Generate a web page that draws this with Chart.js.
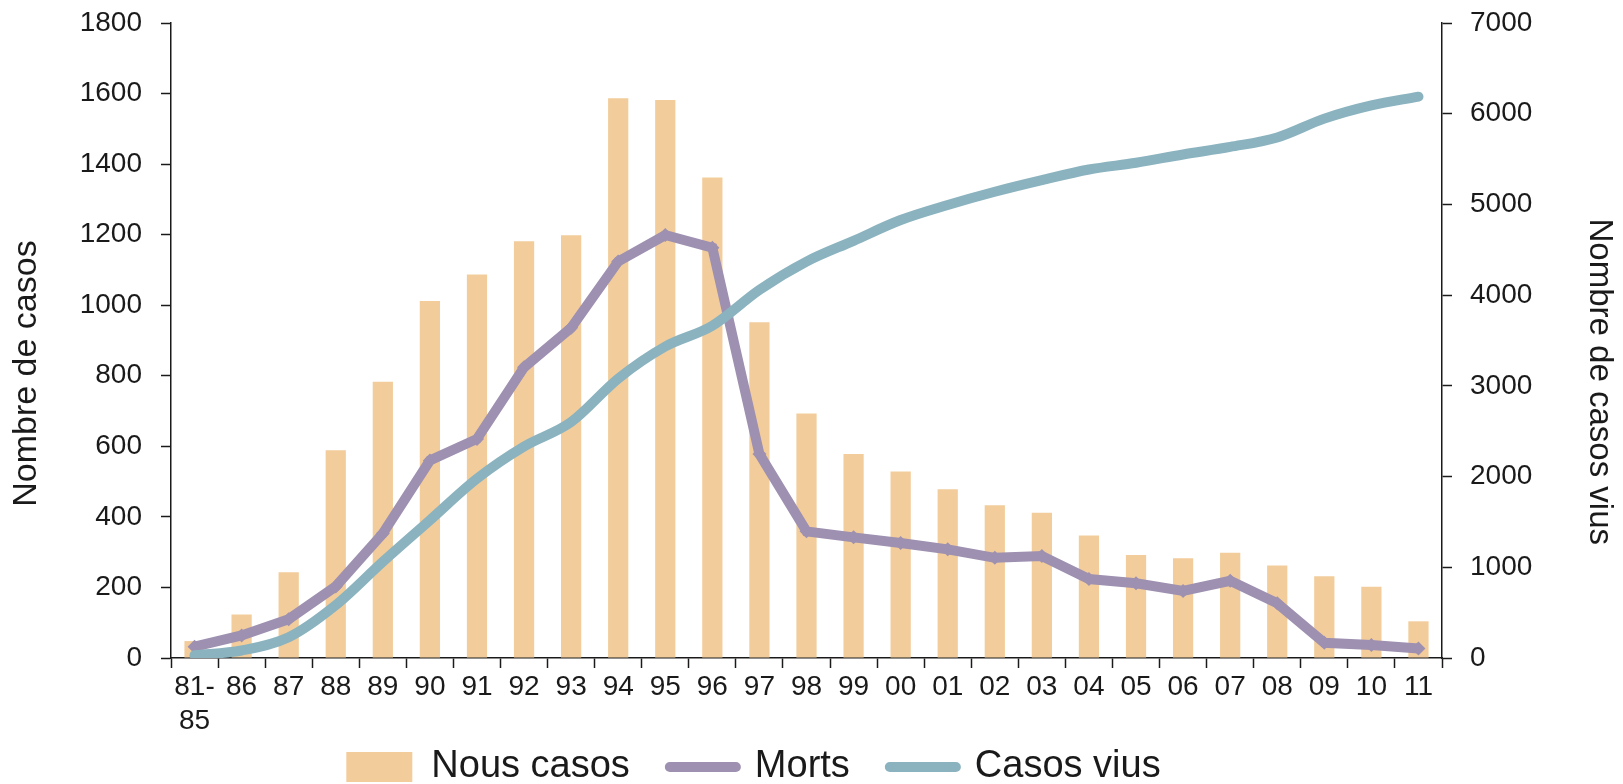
<!DOCTYPE html>
<html>
<head>
<meta charset="utf-8">
<script src="https://cdn.jsdelivr.net/npm/chart.js@4.4.1/dist/chart.umd.min.js"></script>
<style>
  html, body { margin: 0; padding: 0; background: #fff; }
  #wrap { width: 1623px; height: 784px; }
</style>
</head>
<body>
<div id="wrap"><canvas id="chart" width="1623" height="784"></canvas></div>
<script>
const FONT = "'Liberation Sans', Arial, sans-serif";

// years (first one is the 81-85 period)
const years = [["81-", "85"], "86", "87", "88", "89", "90", "91", "92", "93", "94", "95", "96", "97",
  "98", "99", "00", "01", "02", "03", "04", "05", "06", "07", "08", "09", "10", "11"];

const nousCasos = [48, 123, 243, 589, 783, 1012, 1087, 1181, 1198, 1587, 1582, 1362, 952,
  693, 578, 529, 478, 433, 412, 347, 292, 283, 298, 262, 232, 202, 104];

const morts = [32, 64, 110, 203, 353, 560, 621, 824, 936, 1124, 1199, 1163, 578,
  359, 342, 326, 308, 284, 289, 224, 212, 190, 219, 155, 43, 37, 27];

const casosVius = [30, 83, 229, 583, 1061, 1519, 1977, 2331, 2601, 3080, 3434, 3663, 4058,
  4370, 4599, 4828, 4994, 5140, 5268, 5385, 5459, 5551, 5634, 5738, 5946, 6092, 6188];

const COL_BAR = "#F2CD9B";
const COL_MORTS = "#9E90B0";
const COL_VIUS = "#8AB3BF";
const INK = "#1a1a1a";

// the legend padding also sets the gaps between items, so move the box
// afterwards: a bit left of centre and down to the bottom edge, and give
// the x labels (two-line "81- 85") room below the axis
const nudgeBoxes = {
  id: "nudgeBoxes",
  afterLayout(chart) {
    const lg = chart.legend;
    if (lg) {
      lg.left -= 58;
      lg.right -= 58;
      lg.top += 12;
      lg.bottom += 12;
    }
    const x = chart.scales.x;
    x.bottom = x.top + 90;
  }
};

const plain = (v) => String(v);

function noVPad(scale, width) {
  scale.width = width;
  scale.paddingTop = 0;
  scale.paddingBottom = 0;
}

const ctx = document.getElementById("chart").getContext("2d");

new Chart(ctx, {
  type: "bar",
  data: {
    labels: years,
    datasets: [
      {
        type: "bar",
        label: "Nous casos",
        data: nousCasos,
        yAxisID: "y",
        backgroundColor: COL_BAR,
        borderWidth: 0,
        barPercentage: 0.43,
        categoryPercentage: 1,
        order: 3
      },
      {
        type: "line",
        label: "Morts",
        data: morts,
        yAxisID: "y",
        borderColor: COL_MORTS,
        backgroundColor: COL_MORTS,
        borderWidth: 10,
        pointStyle: "rectRot",
        pointRadius: 7,
        pointBorderWidth: 0,
        tension: 0,
        order: 2
      },
      {
        type: "line",
        label: "Casos vius",
        data: casosVius,
        yAxisID: "y1",
        borderColor: COL_VIUS,
        backgroundColor: COL_VIUS,
        borderWidth: 10,
        borderCapStyle: "round",
        pointRadius: 0,
        cubicInterpolationMode: "monotone",
        order: 1
      }
    ]
  },
  plugins: [nudgeBoxes],
  options: {
    responsive: false,
    animation: false,
    devicePixelRatio: 1,
    layout: { padding: { top: 23, left: 0, right: 0, bottom: 0 } },
    plugins: {
      tooltip: { enabled: false },
      legend: {
        position: "bottom",
        labels: {
          color: INK,
          font: { family: FONT, size: 38 },
          usePointStyle: true,
          pointStyleWidth: 66,
          boxHeight: 30,
          padding: 40,
          sort: (a, b) => a.datasetIndex - b.datasetIndex,
          generateLabels(chart) {
            return chart.data.datasets.map((ds, i) => {
              const isBar = ds.type === "bar";
              return {
                text: ds.label,
                datasetIndex: i,
                fillStyle: ds.backgroundColor,
                strokeStyle: ds.borderColor || ds.backgroundColor,
                lineWidth: isBar ? 0 : 10,
                lineCap: "round",
                pointStyle: isBar ? "rect" : "line",
                fontColor: INK,
                hidden: false
              };
            });
          }
        }
      }
    },
    scales: {
      x: {
        offset: true,
        grid: { offset: true, drawOnChartArea: false, drawTicks: true, tickLength: 10, tickColor: INK, tickWidth: 1.5 },
        border: { color: INK, width: 1.5 },
        ticks: { color: INK, font: { family: FONT, size: 28, lineHeight: 1.22 }, padding: 2, maxRotation: 0, autoSkip: false },
        afterFit(scale) { scale.height = 38; }
      },
      y: {
        position: "left",
        min: 0,
        max: 1800,
        grid: { drawOnChartArea: false, drawTicks: true, tickLength: 10, tickColor: INK, tickWidth: 1.5 },
        border: { color: INK, width: 1.5 },
        ticks: { stepSize: 200, color: INK, font: { family: FONT, size: 28 }, padding: 19, callback: plain },
        // trailing spaces: the title sits below the middle of the axis
        title: { display: true, text: "Nombre de casos       ", color: INK, font: { family: FONT, size: 34 }, padding: { top: 6, bottom: 0 } },
        afterFit(scale) { noVPad(scale, 171); }
      },
      y1: {
        position: "right",
        min: 0,
        max: 7000,
        grid: { drawOnChartArea: false, drawTicks: true, tickLength: 10, tickColor: INK, tickWidth: 1.5 },
        border: { color: INK, width: 1.5 },
        ticks: { stepSize: 1000, color: INK, font: { family: FONT, size: 28 }, padding: 18, callback: plain },
        title: { display: true, text: "         Nombre de casos vius", color: INK, font: { family: FONT, size: 33 }, padding: { top: 4, bottom: 0 } },
        afterFit(scale) { noVPad(scale, 181); }
      }
    }
  }
});
</script>
</body>
</html>
